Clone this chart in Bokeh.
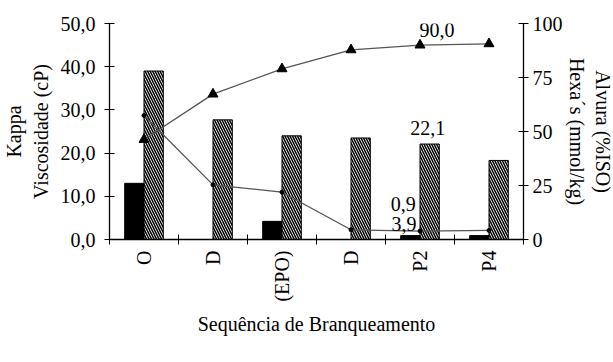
import math
import numpy as np
from bokeh.plotting import figure
from bokeh.models import Range1d, LinearAxis, FixedTicker, ColumnDataSource, Legend, LegendItem
from bokeh.core.properties import value
from bokeh.embed import file_html
from bokeh.resources import INLINE

# ---- data ----
stages = ["O", "D", "(EPO)", "D", "P2", "P4"]
kappa = [13.0, None, 4.2, None, 0.9, 0.9]
viscosidade = [39.0, 27.7, 24.0, 23.5, 22.1, 18.3]
alvura = [46.3, 67.3, 79.0, 87.8, 90.0, 90.6]
hexa = [57.4, 25.3, 21.9, 4.5, 3.9, 4.2]
left_ticks = [0, 10, 20, 30, 40, 50]
right_ticks = [0, 25, 50, 75, 100]

FONT = "Liberation Serif"
FS = "20px"

def fmt(v):
    return f"{v:.1f}".replace(".", ",")

n = len(stages)
xc = np.arange(n) + 0.5
bw = 0.28

src = ColumnDataSource(dict(
    xk=xc - bw / 2, xv=xc + bw / 2, xc=xc,
    kappa=np.array([np.nan if v is None else v for v in kappa], dtype=float),
    visc=viscosidade, alv=alvura, hexa=hexa))

p = figure(frame_width=414, frame_height=216, x_range=Range1d(0, n), y_range=Range1d(0, 50),
           output_backend="svg", toolbar_location=None,
           min_border_left=109, min_border_right=88, min_border_top=23, min_border_bottom=0)
p.extra_y_ranges = {"right": Range1d(0, 100)}
p.outline_line_color = None
p.xgrid.visible = False
p.ygrid.visible = False
p.background_fill_color = "white"

rk = p.vbar(x="xk", top="kappa", width=bw, source=src, fill_color="black", line_color="black")
rv = p.vbar(x="xv", top="visc", width=bw, source=src, fill_color="white", line_color="black",
            hatch_pattern="left_diagonal_line", hatch_color="black", hatch_scale=5, hatch_weight=1.5)
la = p.line(x="xc", y="alv", source=src, y_range_name="right", line_color="#555555", line_width=1.3)
sa = p.scatter(x="xc", y="alv", source=src, y_range_name="right", marker="triangle", size=10,
               fill_color="black", line_color="black")
lh = p.line(x="xc", y="hexa", source=src, y_range_name="right", line_color="#555555", line_width=1.3)
sh = p.scatter(x="xc", y="hexa", source=src, y_range_name="right", marker="circle", size=4,
               fill_color="black", line_color="black")

i = 4  # P2 labels
tstyle = dict(text_font=value(FONT), text_font_size=FS, text_align="center",
              text_baseline="middle", text_color="black")
p.text(x=[xc[i]], y=[alvura[i]], text=[fmt(alvura[i])], y_range_name="right",
       x_offset=17, y_offset=-15, **tstyle)
p.text(x=[xc[i] + bw / 2], y=[viscosidade[i]], text=[fmt(viscosidade[i])],
       x_offset=-2, y_offset=-16, **tstyle)
p.text(x=[xc[i] - bw / 2], y=[kappa[i]], text=[fmt(kappa[i])],
       x_offset=-7, y_offset=-32, **tstyle)
p.text(x=[xc[i]], y=[hexa[i]], text=[fmt(hexa[i])], y_range_name="right",
       x_offset=-16, y_offset=-7, **tstyle)

# x axis
xa = p.xaxis[0]
xa.ticker = FixedTicker(ticks=list(xc), minor_ticks=list(range(n + 1)))
xa.major_label_overrides = {float(x): s for x, s in zip(xc, stages)}
xa.major_label_orientation = math.pi / 2
xa.minor_tick_in = 5
xa.minor_tick_out = 5
xa.minor_tick_line_color = "black"
xa.axis_label = "Sequência de Branqueamento"

# left axis
ya = p.yaxis[0]
ya.ticker = FixedTicker(ticks=left_ticks)
ya.major_label_overrides = {t: fmt(t) for t in left_ticks}
ya.minor_tick_line_color = None
ya.axis_label = "Kappa\nViscosidade (cP)"

# right axis
ra = LinearAxis(y_range_name="right", ticker=FixedTicker(ticks=right_ticks),
                axis_label="Alvura (%ISO)\nHexa´s (mmol/kg)")
ra.minor_tick_line_color = None
p.add_layout(ra, "right")

for ax in [xa, ya, ra]:
    ax.major_label_text_font = FONT
    ax.major_label_text_font_size = FS
    ax.major_label_text_color = "black"
    ax.axis_label_text_font = FONT
    ax.axis_label_text_font_size = FS
    ax.axis_label_text_font_style = "normal"
    ax.axis_label_text_color = "black"
    ax.axis_line_color = "black"
    ax.axis_line_width = 1.3
    ax.major_tick_line_color = "black" if ax is not xa else None
    ax.major_tick_in = 5
    ax.major_tick_out = 5
ya.major_label_standoff = 9
ya.axis_label_standoff = 6
ra.major_label_standoff = 4
ra.axis_label_standoff = 0
xa.major_label_standoff = 6
xa.axis_label_standoff = 8

legend = Legend(items=[
    LegendItem(label="kappa", renderers=[rk]),
    LegendItem(label="Viscosidade", renderers=[rv]),
    LegendItem(label="Alvura", renderers=[la, sa]),
    LegendItem(label="Hexenurônicos", renderers=[lh, sh]),
], orientation="horizontal", location=(-44, 0))
legend.label_text_font = FONT
legend.label_text_font_size = FS
legend.label_text_color = "black"
legend.glyph_width = 35
legend.glyph_height = 8
legend.label_standoff = 1
legend.spacing = 20
legend.padding = 0
legend.margin = 0
legend.label_height = 16
legend.border_line_color = None
legend.background_fill_alpha = 0
p.add_layout(legend, "below")

open("out.html", "w").write(file_html(p, INLINE))
